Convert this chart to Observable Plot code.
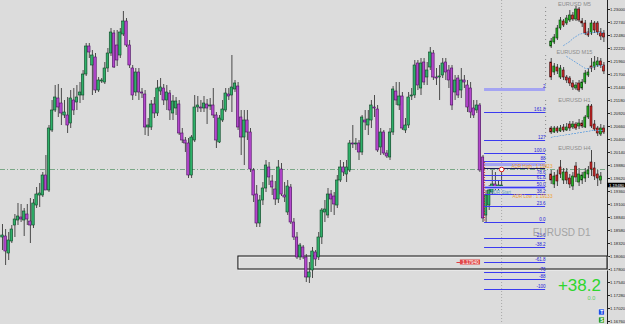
<!DOCTYPE html>
<html><head><meta charset="utf-8">
<script src="https://cdn.jsdelivr.net/npm/d3@7"></script>
<script src="https://cdn.jsdelivr.net/npm/@observablehq/plot@0.6"></script>
<style>
html,body{margin:0;padding:0;background:#dcdcdc;}
#chart svg{display:block}
</style></head><body><div id="chart"></div>
<script>
// ---- EURUSD D1 candles (prices) ----
const opens = [
1.1844,1.1846,1.1812,1.1836,1.1868,1.1878,1.1884,1.1878,1.1890,1.1876,
1.1868,1.1908,1.1928,1.1928,1.1968,1.1938,1.2058,1.2098,1.2122,1.2112,
1.2088,1.2088,1.2072,1.2118,1.2114,1.2128,1.2128,1.2170,1.2226,1.2188,
1.2204,1.2138,1.2156,1.2154,1.2182,1.2212,1.2252,1.2228,1.2208,1.2250,
1.2276,1.2228,1.2182,1.2134,1.2174,1.2134,1.2130,1.2064,1.2064,1.2110,
1.2092,1.2136,1.2142,1.2118,1.2132,1.2092,1.2102,1.2110,1.2052,1.2038,
1.2032,1.1968,1.2038,1.2104,1.2104,1.2102,1.2110,1.2106,1.2108,1.2088,
1.2034,1.2078,1.2098,1.2130,1.2128,1.2140,1.2146,1.2084,1.2044,1.2078,
1.2054,1.1978,1.1930,1.1872,1.1918,1.1942,1.1984,1.1956,1.1940,1.1920,
1.1980,1.1928,1.1894,1.1944,1.1874,1.1844,1.1804,1.1824,1.1804,1.1764,
1.1778,1.1814,1.1804,1.1844,1.1894,1.1888,1.1930,1.1926,1.1908,1.1958,
1.1984,1.1970,1.1978,1.2032,1.2030,1.2032,1.2014,1.2078,1.2068,1.2078,
1.2104,1.2100,1.2024,1.2054,1.2012,1.2004,1.2054,1.2136,1.2108,1.2126,
1.2058,1.2068,1.2126,1.2128,1.2192,1.2142,1.2194,1.2164,1.2184,1.2212,
1.2164,1.2164,1.2168,1.2194,1.2178,1.2182,1.2134,1.2162,1.2138,1.2158,
1.2148,1.2142,1.2102,1.2098,1.2108,1.2004,1.1888,1.1908,1.1934,1.1950,
1.1942,1.1946];
const highs = [
1.1870,1.1860,1.1854,1.1868,1.1890,1.1912,1.1910,1.1902,1.1910,1.1922,
1.1920,1.1944,1.1952,1.1974,1.2008,1.2068,1.2118,1.2148,1.2150,1.2142,
1.2118,1.2124,1.2138,1.2142,1.2148,1.2154,1.2178,1.2232,1.2232,1.2218,
1.2212,1.2164,1.2162,1.2194,1.2222,1.2262,1.2258,1.2258,1.2262,1.2296,
1.2282,1.2238,1.2188,1.2182,1.2182,1.2142,1.2138,1.2082,1.2118,1.2124,
1.2158,1.2162,1.2150,1.2148,1.2138,1.2128,1.2124,1.2118,1.2062,1.2044,
1.2042,1.2048,1.2128,1.2126,1.2118,1.2126,1.2120,1.2122,1.2142,1.2094,
1.2088,1.2118,1.2142,1.2142,1.2208,1.2158,1.2154,1.2098,1.2098,1.2098,
1.2062,1.1982,1.1948,1.1928,1.1954,1.1998,1.1994,1.1968,1.1956,1.1998,
1.1992,1.1954,1.1958,1.1950,1.1882,1.1854,1.1832,1.1828,1.1810,1.1794,
1.1824,1.1818,1.1854,1.1902,1.1918,1.1942,1.1938,1.1934,1.1968,1.1998,
1.1994,1.1998,1.2038,1.2068,1.2042,1.2038,1.2088,1.2098,1.2098,1.2118,
1.2128,1.2108,1.2062,1.2058,1.2018,1.2062,1.2146,1.2154,1.2154,1.2134,
1.2082,1.2134,1.2142,1.2198,1.2198,1.2202,1.2202,1.2194,1.2224,1.2218,
1.2182,1.2188,1.2202,1.2202,1.2188,1.2188,1.2168,1.2168,1.2182,1.2168,
1.2158,1.2154,1.2118,1.2118,1.2112,1.2008,1.1938,1.1948,1.1978,1.1974,
1.1958,1.1982];
const lows = [
1.1818,1.1788,1.1798,1.1832,1.1844,1.1868,1.1874,1.1846,1.1868,1.1832,
1.1862,1.1902,1.1904,1.1924,1.1938,1.1934,1.2054,1.2094,1.2084,1.2068,
1.2082,1.2052,1.2062,1.2088,1.2098,1.2112,1.2118,1.2166,1.2202,1.2128,
1.2132,1.2134,1.2152,1.2150,1.2174,1.2206,1.2182,1.2186,1.2202,1.2246,
1.2224,1.2182,1.2118,1.2126,1.2118,1.2122,1.2048,1.2046,1.2058,1.2082,
1.2086,1.2128,1.2108,1.2098,1.2078,1.2078,1.2088,1.2048,1.2032,1.2014,
1.1962,1.1962,1.2034,1.2094,1.2094,1.2094,1.2070,1.2098,1.2082,1.2022,
1.2032,1.2074,1.2094,1.2118,1.2094,1.2134,1.2058,1.2008,1.1988,1.2038,
1.1974,1.1914,1.1864,1.1864,1.1908,1.1934,1.1948,1.1928,1.1908,1.1912,
1.1926,1.1914,1.1888,1.1870,1.1838,1.1800,1.1798,1.1800,1.1754,1.1752,
1.1762,1.1786,1.1798,1.1830,1.1874,1.1882,1.1894,1.1888,1.1902,1.1954,
1.1966,1.1954,1.1974,1.2022,1.2018,1.1998,1.2008,1.2058,1.2048,1.2062,
1.2084,1.2014,1.2008,1.2008,1.2002,1.1998,1.2048,1.2108,1.2098,1.2058,
1.2052,1.2062,1.2118,1.2122,1.2138,1.2128,1.2148,1.2148,1.2178,1.2158,
1.2148,1.2118,1.2162,1.2158,1.2142,1.2098,1.2118,1.2122,1.2122,1.2142,
1.2094,1.2082,1.2082,1.2092,1.1974,1.1874,1.1874,1.1898,1.1930,1.1938,
1.1938,1.1942];
const closes = [
1.1848,1.1816,1.1838,1.1860,1.1880,1.1886,1.1880,1.1896,1.1880,1.1868,
1.1912,1.1930,1.1932,1.1968,1.1938,1.2062,1.2098,1.2124,1.2104,1.2092,
1.2094,1.2068,1.2122,1.2098,1.2124,1.2134,1.2170,1.2226,1.2214,1.2208,
1.2138,1.2158,1.2158,1.2182,1.2212,1.2254,1.2184,1.2198,1.2254,1.2276,
1.2228,1.2188,1.2128,1.2174,1.2134,1.2132,1.2064,1.2068,1.2110,1.2092,
1.2142,1.2144,1.2118,1.2134,1.2098,1.2116,1.2116,1.2052,1.2038,1.2032,
1.1968,1.2044,1.2104,1.2108,1.2102,1.2112,1.2102,1.2108,1.2088,1.2038,
1.2082,1.2100,1.2132,1.2126,1.2144,1.2152,1.2064,1.2044,1.2078,1.2054,
1.1980,1.1928,1.1872,1.1918,1.1942,1.1988,1.1964,1.1944,1.1920,1.1984,
1.1930,1.1924,1.1946,1.1874,1.1844,1.1804,1.1828,1.1804,1.1764,1.1774,
1.1816,1.1800,1.1844,1.1898,1.1900,1.1930,1.1920,1.1910,1.1958,1.1984,
1.1974,1.1984,1.2032,1.2030,1.2032,1.2014,1.2084,1.2074,1.2080,1.2108,
1.2102,1.2018,1.2054,1.2012,1.2006,1.2054,1.2140,1.2118,1.2126,1.2062,
1.2068,1.2124,1.2128,1.2188,1.2148,1.2192,1.2154,1.2178,1.2214,1.2164,
1.2162,1.2166,1.2192,1.2174,1.2158,1.2108,1.2158,1.2128,1.2158,1.2154,
1.2104,1.2094,1.2088,1.2108,1.1978,1.1882,1.1928,1.1938,1.1950,1.1942,
1.1948,1.1948];

// ---- right price axis tick labels ----
const priceTicks = [1.23000,1.22740,1.22480,1.22220,1.21960,1.21700,1.21440,1.21180,1.20920,1.20660,
  1.20400,1.20140,1.19880,1.19620,1.19360,1.19100,1.18840,1.18580,1.18320,1.18060,
  1.17800,1.17540,1.17280,1.17020,1.16760];

// ---- Fibonacci drawing ----
const fibLabels = ["2","161.8","127","100.0","88","78.6","61.8","50.0","38.2","23.6","0.0","-23.6","-38.2","-61.8","-76","-88","-100"];
const fibPrices = [1.2140,1.2094,1.2038,1.2012,1.1996,1.1968,1.1958,1.1944,1.1930,1.1906,1.1874,1.1842,1.1824,1.1794,1.1774,1.1760,1.1740];
const fibBands = [1.2140,1.1990,1.1944];
const fibBars = [155.5, 175.2];          // start / end bar of the drawing

// ---- other objects ----
const zoneBars = [76.1];                 // rectangle starts at this bar
const zonePrices = [1.1806, 1.1780];
const levelLine = [1.1980];
const adrHigh = [1.1982];
const adrTexts = ["ADR High : 1.19823", "ADR Low : 1.19133", "ADR Start"];
const adrTextPrices = [1.1986, 1.1926, 1.1934];
const redLabel = ["1.17940"];
const redLabelPrice = [1.1794];
const priceNow = [1.1948];
const priceNowText = ["1.19480"];
const symbolLabel = ["EURUSD D1"];
const bigValue = ["+38.2"];
const subValue = ["0.0"];
const buttons = ["T", "S"];

// ---- mini charts (other timeframes) ----
const insetNames = ["EURUSD M5","EURUSD M15","EURUSD H1","EURUSD H4"];
const insetTitlePrices = [1.2310, 1.2214, 1.2118, 1.2022];
const insetScaleTop = [1.2304, 1.2208, 1.2118, 1.2018];
const insetScaleBottom = [1.2224, 1.2138, 1.2038, 1.1928];

const m5Open  = [1.2226,1.2234,1.2242,1.2262,1.2276,1.2272,1.2278,1.2288,1.2280,1.2300,1.2276,1.2272,1.2254,1.2252,1.2272,1.2272,1.2254,1.2252];
const m5High  = [1.2242,1.2250,1.2268,1.2284,1.2280,1.2288,1.2298,1.2294,1.2306,1.2304,1.2282,1.2278,1.2262,1.2278,1.2276,1.2276,1.2262,1.2258];
const m5Low   = [1.2222,1.2230,1.2238,1.2258,1.2264,1.2268,1.2274,1.2276,1.2276,1.2274,1.2264,1.2248,1.2244,1.2248,1.2252,1.2248,1.2238,1.2234];
const m5Close = [1.2236,1.2244,1.2262,1.2278,1.2268,1.2282,1.2288,1.2280,1.2300,1.2278,1.2272,1.2252,1.2248,1.2272,1.2258,1.2254,1.2246,1.2244];
const m5Ma    = [null,null,null,null,1.2228,1.2232,1.2236,1.2242,1.2246,1.2250,1.2252,1.2252,1.2254,1.2254,1.2254,1.2254,1.2254,1.2254];

const m15Open  = [1.2194,1.2174,1.2184,1.2164,1.2178,1.2164,1.2162,1.2152,1.2142,1.2152,1.2142,1.2154,1.2168,1.2186,1.2184,1.2188,1.2196,1.2188];
const m15High  = [1.2202,1.2192,1.2190,1.2188,1.2184,1.2168,1.2166,1.2158,1.2154,1.2158,1.2160,1.2178,1.2182,1.2202,1.2206,1.2204,1.2202,1.2194];
const m15Low   = [1.2158,1.2168,1.2170,1.2160,1.2158,1.2152,1.2146,1.2138,1.2138,1.2134,1.2138,1.2150,1.2164,1.2174,1.2178,1.2184,1.2182,1.2170];
const m15Close = [1.2164,1.2186,1.2176,1.2182,1.2164,1.2158,1.2152,1.2144,1.2148,1.2138,1.2154,1.2172,1.2174,1.2182,1.2194,1.2196,1.2188,1.2176];
const m15Ma    = [null,null,null,null,null,1.2206,1.2202,1.2198,1.2194,1.2190,1.2186,1.2182,1.2182,1.2184,1.2186,1.2188,1.2188,1.2188];

const h1Open  = [1.2062,1.2054,1.2062,1.2056,1.2064,1.2058,1.2070,1.2064,1.2070,1.2066,1.2072,1.2064,1.2084,1.2106,1.2070,1.2062,1.2050,1.2062];
const h1High  = [1.2066,1.2066,1.2066,1.2068,1.2070,1.2072,1.2076,1.2076,1.2074,1.2080,1.2078,1.2088,1.2110,1.2110,1.2078,1.2066,1.2070,1.2068];
const h1Low   = [1.2050,1.2052,1.2052,1.2054,1.2054,1.2056,1.2056,1.2060,1.2058,1.2060,1.2062,1.2062,1.2080,1.2062,1.2056,1.2046,1.2046,1.2050];
const h1Close = [1.2054,1.2062,1.2056,1.2062,1.2058,1.2064,1.2062,1.2070,1.2062,1.2072,1.2066,1.2084,1.2106,1.2066,1.2060,1.2052,1.2062,1.2054];
const h1Ma    = [1.2044,1.2046,1.2046,1.2048,1.2048,1.2050,1.2050,1.2052,1.2052,1.2054,1.2054,1.2056,1.2056,1.2058,1.2058,1.2058,1.2058,1.2058];

const h4Open  = [1.1970,1.1950,1.1968,1.1984,1.1958,1.1974,1.1962,1.1946,1.1986,1.1954,1.1958,1.1962,1.1970,1.1994,1.1982,1.1970,1.1958];
const h4High  = [1.1978,1.1974,1.1978,1.1998,1.1982,1.1982,1.1970,1.1974,1.1994,1.1982,1.1974,1.1982,1.1986,1.2018,1.1994,1.1978,1.1974];
const h4Low   = [1.1950,1.1942,1.1946,1.1962,1.1950,1.1950,1.1942,1.1938,1.1954,1.1946,1.1950,1.1954,1.1962,1.1966,1.1958,1.1946,1.1950];
const h4Close = [1.1958,1.1966,1.1956,1.1970,1.1974,1.1958,1.1950,1.1966,1.1964,1.1970,1.1968,1.1974,1.1978,1.1980,1.1966,1.1962,1.1966];
const insetStartBar = 177;

// ---------------------------------------------------------------
const N = opens.length;
const xMin = -0.645, xMax = 195.16;
const FONT = "Liberation Sans, Arial, sans-serif";

function candleMarks(o, h, l, c, start, hw, upFill, upStroke, dnFill, dnStroke, wick) {
  const data = o.map((v, k) => ({x: start + k, o: v, h: h[k], l: l[k], c: c[k]}));
  return [
    Plot.ruleX(data, {x: "x", y1: "l", y2: "h", stroke: wick, strokeWidth: 0.9}),
    Plot.rect(data, {x1: d => d.x - hw, x2: d => d.x + hw, y1: "o", y2: "c",
      fill: d => d.c >= d.o ? upFill : dnFill,
      stroke: d => d.c >= d.o ? upStroke : dnStroke, strokeWidth: 0.6})
  ];
}
function maLine(ma, start) {
  const pts = ma.map((v, k) => ({x: start + k, y: v}));
  return Plot.line(pts, {x: "x", y: "y", stroke: "#6fa6de", strokeWidth: 1, strokeDasharray: "1,2"});
}

const fib = fibLabels.map((t, k) => ({t, p: fibPrices[k]}));
const zone = [{x1: zoneBars[0], x2: xMax, y1: zonePrices[0], y2: zonePrices[1]}];

const marks = [
  // horizontal dash-dot level and current-bar vertical line
  Plot.ruleY(levelLine, {y: d => d, stroke: "#5f9a70", strokeWidth: 0.8, strokeDasharray: "5,2,1,2"}),
  Plot.ruleX([N - 1], {x: d => d, stroke: "#9a9a9a", strokeWidth: 0.8, strokeDasharray: "1,2"}),
  // zone rectangle (double line)
  Plot.rect(zone, {x1: "x1", x2: "x2", y1: "y1", y2: "y2", fill: "none", stroke: "#f4f4f4", strokeWidth: 1, dx: 1, dy: 1}),
  Plot.rect(zone, {x1: "x1", x2: "x2", y1: "y1", y2: "y2", fill: "none", stroke: "#111", strokeWidth: 1}),
  // main candles
  ...candleMarks(opens, highs, lows, closes, 0, 0.4, "#2fb069", "#0b4424", "#b446cc", "#4a1060", "#3a3a3a"),
  // fibonacci
  Plot.ruleY(fibBands, {y: d => d, x1: fibBars[0], x2: fibBars[1], stroke: "#a4a4f2", strokeWidth: 3}),
  Plot.ruleY(fib.slice(1), {y: "p", x1: fibBars[0], x2: fibBars[1], stroke: "#3b3bf0", strokeWidth: 1}),
  Plot.text(fib, {x: fibBars[1], y: "p", text: "t", textAnchor: "end", dy: -2.6, fontSize: 4.6, fill: "#2323d8", fontFamily: FONT}),
  // ADR objects
  Plot.ruleY(adrHigh, {y: d => d, x1: fibBars[0], x2: fibBars[1], stroke: "#1c1c5c", strokeWidth: 1.2}),
  Plot.ruleX([{x: fibBars[0], y1: fibPrices[4] - 0.0002, y2: fibPrices[10]}], {x: "x", y1: "y1", y2: "y2", stroke: "#e03030", strokeWidth: 1, strokeDasharray: "1,1.5"}),
  Plot.text(adrTexts.slice(0, 2), {x: 177.4, y: (d, k) => adrTextPrices[k], text: d => d, textAnchor: "end", fontSize: 4.6, fill: "#f0a030", fontFamily: FONT}),
  Plot.text(adrTexts.slice(2), {x: 157.4, y: adrTextPrices[2], text: d => d, textAnchor: "start", fontSize: 4.6, fill: "#5a9cc0", fontFamily: FONT}),
  Plot.dot(levelLine, {x: N - 1, y: d => d, r: 2.3, stroke: "#e02020", fill: "#ffffff", strokeWidth: 1}),
  // red price label with arrow
  Plot.ruleY(redLabelPrice, {y: d => d, x1: 146.6, x2: 147.8, stroke: "#e04040", strokeWidth: 1}),
  Plot.rect(redLabelPrice, {x1: 147.7, x2: 154.2, y1: d => d + 0.0005, y2: d => d - 0.0005, fill: "#e24a4a"}),
  Plot.text(redLabel, {x: 150.95, y: redLabelPrice[0], text: d => d, fontSize: 4.6, fill: "#ffffff", fontFamily: FONT}),
  // mini charts
  Plot.ruleX(insetScaleTop.map((t, k) => ({t, b: insetScaleBottom[k]})), {x: fibBars[1], y1: "t", y2: "b", stroke: "#8a8a8a", strokeWidth: 1, strokeDasharray: "1,3"}),
  Plot.text(insetNames, {x: 184.5, y: (d, k) => insetTitlePrices[k], text: d => d, fontSize: 5.6, fill: "#8c8c8c", fontFamily: FONT}),
  ...candleMarks(m5Open, m5High, m5Low, m5Close, insetStartBar, 0.32, "#22b422", "#0b3a0b", "#d42828", "#3a0a0a", "#333"),
  maLine(m5Ma, insetStartBar),
  ...candleMarks(m15Open, m15High, m15Low, m15Close, insetStartBar, 0.32, "#22b422", "#0b3a0b", "#d42828", "#3a0a0a", "#333"),
  maLine(m15Ma, insetStartBar),
  ...candleMarks(h1Open, h1High, h1Low, h1Close, insetStartBar, 0.32, "#22b422", "#0b3a0b", "#d42828", "#3a0a0a", "#333"),
  maLine(h1Ma, insetStartBar),
  ...candleMarks(h4Open, h4High, h4Low, h4Close, insetStartBar, 0.32, "#22b422", "#0b3a0b", "#d42828", "#3a0a0a", "#333"),
  // big labels
  Plot.text(symbolLabel, {x: 180.4, y: 1.1854, text: d => d, fontSize: 10, fill: "#a4a4a4", fontFamily: FONT}),
  Plot.text(bigValue, {x: 186.1, y: 1.1748, text: d => d, fontSize: 17, fill: "#2ed62e", fontFamily: FONT}),
  Plot.text(subValue, {x: 190.0, y: 1.1722, text: d => d, fontSize: 5.6, fill: "#5fcf5f", fontFamily: FONT}),
  // T / S buttons
  Plot.rect(buttons, {x1: 192.4, x2: 194.3, y1: (d, k) => k === 0 ? 1.1700 : 1.1684, y2: (d, k) => k === 0 ? 1.1688 : 1.1672,
    fill: (d, k) => k === 0 ? "#1f4fe6" : "#2a9a2a", stroke: "#f0f0f0", strokeWidth: 0.6}),
  Plot.text(buttons, {x: 193.35, y: (d, k) => k === 0 ? 1.1694 : 1.1678, text: d => d, fontSize: 5, fontWeight: "bold", fill: "#ffffff", fontFamily: FONT}),
  // current price box on the axis
  Plot.rect(priceNow, {x1: xMax, x2: 201.2, y1: d => d + 0.00045, y2: d => d - 0.00045, fill: "#000000"}),
  Plot.text(priceNowText, {x: xMax + 0.5, y: priceNow[0], text: d => d, textAnchor: "start", fontSize: 4.2, fill: "#ffffff", fontFamily: FONT})
];

const chart = Plot.plot({
  width: 625, height: 324,
  marginTop: 0, marginBottom: 0, marginLeft: 0, marginRight: 18,
  style: {background: "#dcdcdc", fontFamily: FONT, fontSize: "4.2px", color: "#222", overflow: "visible"},
  color: {type: "identity"},
  x: {type: "linear", domain: [xMin, xMax], axis: null},
  y: {domain: [1.1670, 1.2318], axis: "right", ticks: priceTicks, tickFormat: d => d.toFixed(5),
      tickSize: 2, tickPadding: 0.5, label: null, line: true},
  marks
});
document.getElementById("chart").appendChild(chart);
</script>
</body></html>
